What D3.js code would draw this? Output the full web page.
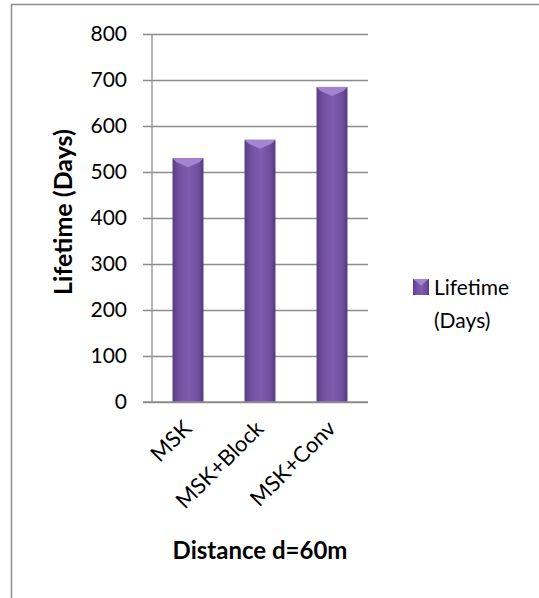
<!DOCTYPE html>
<html>
<head>
<meta charset="utf-8">
<script src="https://cdn.jsdelivr.net/npm/d3@7"></script>
<style>
  body { margin: 0; background: #fff; }
  text { font-family: Lato, "Open Sans", sans-serif; fill: #000; }
</style>
</head>
<body>
<div id="chart"></div>
<script>
// data
const categories = ["MSK", "MSK+Block", "MSK+Conv"];
const lifetime = [530, 570, 685];
const yTicks = [0, 100, 200, 300, 400, 500, 600, 700, 800];
const seriesName = ["Lifetime", "(Days)"];

const W = 539, H = 598;
const plot = { left: 152, right: 368, top: 34, bottom: 402 };

const svg = d3.select("#chart").append("svg")
    .attr("width", W)
    .attr("height", H);

// gradient for bars
const defs = svg.append("defs");
const grad = defs.append("linearGradient").attr("id", "barGrad")
    .attr("x1", "0%").attr("x2", "100%").attr("y1", "0%").attr("y2", "0%");
grad.append("stop").attr("offset", "0%").attr("stop-color", "#5a3d85");
grad.append("stop").attr("offset", "25%").attr("stop-color", "#7553a3");
grad.append("stop").attr("offset", "55%").attr("stop-color", "#7e5bad");
grad.append("stop").attr("offset", "85%").attr("stop-color", "#6d4c9b");
grad.append("stop").attr("offset", "100%").attr("stop-color", "#55397e");

// outer frame
svg.append("path")
    .attr("d", `M11.5,${H} L11.5,4.5 L${W},4.5`)
    .attr("fill", "none")
    .attr("stroke", "#8c8c8c")
    .attr("stroke-width", 1.5);

// scales
const x = d3.scaleBand()
    .domain(categories)
    .range([plot.left, plot.right])
    .paddingInner(0.57)
    .paddingOuter(0.285);

const y = d3.scaleLinear()
    .domain([0, 800])
    .range([plot.bottom, plot.top]);

// gridlines + y ticks
svg.append("g")
    .attr("transform", `translate(${plot.left},0)`)
    .call(d3.axisLeft(y).tickValues(yTicks).tickSize(9).tickPadding(16).tickFormat(d3.format("d")))
    .call(g => g.select(".domain").remove())
    .call(g => g.selectAll(".tick line")
        .attr("x1", 216).attr("x2", -9)
        .attr("stroke", "#8c8c8c").attr("stroke-width", 1.3))
    .call(g => g.selectAll(".tick text")
        .style("font-size", "21px")
        .attr("fill", "#000"));

// vertical axis line
svg.append("line")
    .attr("x1", plot.left).attr("x2", plot.left)
    .attr("y1", plot.top).attr("y2", plot.bottom)
    .attr("stroke", "#8c8c8c").attr("stroke-width", 1.3);

// bars
const bars = svg.append("g");
bars.selectAll("rect")
    .data(lifetime)
    .enter().append("rect")
    .attr("x", (d, i) => x(categories[i]))
    .attr("y", d => y(d))
    .attr("width", x.bandwidth())
    .attr("height", d => y(0) - y(d))
    .attr("fill", "url(#barGrad)");

// bevelled top cap
bars.selectAll("path.cap")
    .data(lifetime)
    .enter().append("path")
    .attr("class", "cap")
    .attr("d", (d, i) => {
        const x0 = x(categories[i]), w = x.bandwidth(), t = y(d);
        return `M${x0},${t} L${x0 + w},${t} L${x0 + w - 4},${t + 4} L${x0 + w / 2},${t + 9} L${x0 + 4},${t + 4} Z`;
    })
    .attr("fill", "#a284d0");

// x axis baseline (drawn over bars)
svg.append("line")
    .attr("x1", plot.left - 9).attr("x2", plot.right)
    .attr("y1", plot.bottom).attr("y2", plot.bottom)
    .attr("stroke", "#8c8c8c").attr("stroke-width", 1.3);

// x labels
svg.append("g").selectAll("text")
    .data(categories)
    .enter().append("text")
    .attr("transform", d => `translate(${x(d) + x.bandwidth() / 2 + 5},${plot.bottom + 28}) rotate(-45)`)
    .attr("text-anchor", "end")
    .style("font-size", "22px")
    .text(d => d);

// y title
svg.append("text")
    .attr("transform", `translate(72,212) rotate(-90)`)
    .attr("text-anchor", "middle")
    .style("font-size", "25px")
    .style("font-weight", "bold")
    .text("Lifetime (Days)");

// x title
svg.append("text")
    .attr("x", 260)
    .attr("y", 559)
    .attr("text-anchor", "middle")
    .style("font-size", "24px")
    .style("font-weight", "bold")
    .text("Distance d=60m");

// legend
const legend = svg.append("g").attr("transform", "translate(413,279)");
legend.append("rect")
    .attr("width", 16).attr("height", 16)
    .attr("fill", "url(#barGrad)");
legend.append("path")
    .attr("d", "M0,0 L16,0 L12,3 L8,7 L4,3 Z")
    .attr("fill", "#a284d0");
legend.selectAll("text")
    .data(seriesName)
    .enter().append("text")
    .attr("x", 21)
    .attr("y", (d, i) => 16 + i * 33)
    .style("font-size", "21px")
    .text(d => d);
</script>
</body>
</html>
